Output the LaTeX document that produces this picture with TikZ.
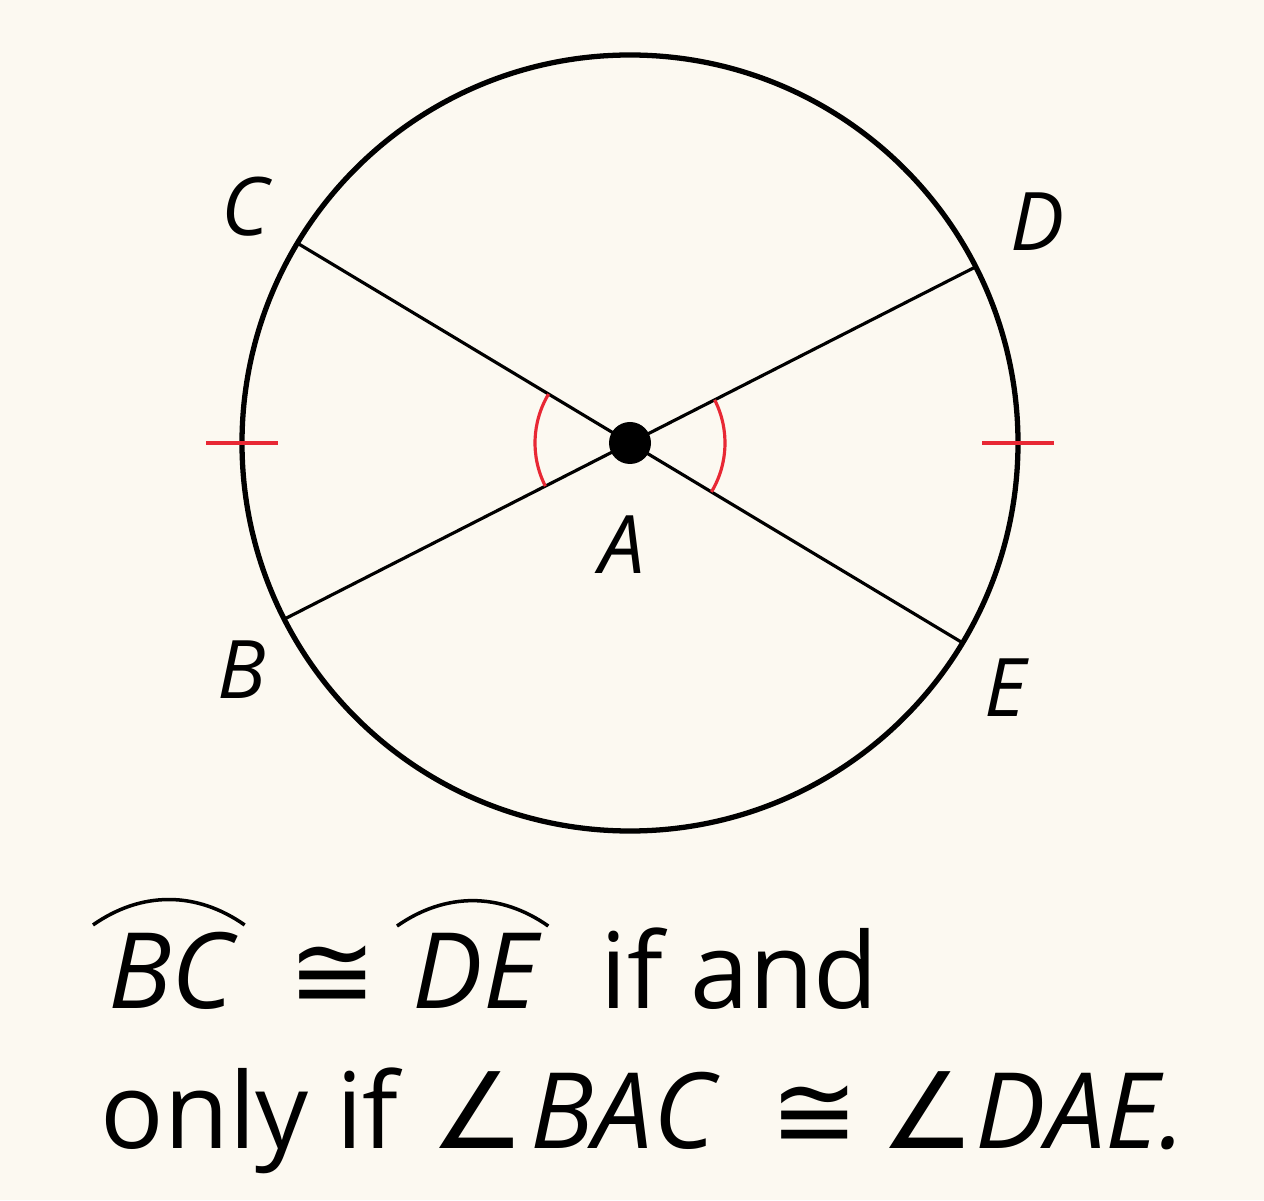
\documentclass[tikz,border=0pt]{standalone}
\usepackage{fontspec}
\setmainfont{Open Sans}
\newfontfamily\symfont{DejaVu Sans}
\definecolor{bgcream}{RGB}{252,249,241}
\definecolor{markred}{RGB}{232,40,52}
\begin{document}
\begin{tikzpicture}[
			circ/.style={line width=1.5pt},
			chord/.style={line width=0.9pt},
			redmark/.style={markred, line width=0.9pt},
			lbl/.style={font=\fontsize{23}{27}\selectfont\itshape},
			txt/.style={anchor=base west, inner sep=0pt, font=\fontsize{30}{36}\selectfont}
			]
			\fill[bgcream] (0,0) rectangle (12.64,12); % page
			\coordinate (A) at (6.30,7.57);
			\path (A) ++(149:3.88) coordinate (C)
			      (A) ++(27:3.88) coordinate (D)
			      (A) ++(207:3.88) coordinate (B)
			      (A) ++(329:3.88) coordinate (E)
			      (A) ++(180:3.88) coordinate (L)
			      (A) ++(0:3.88) coordinate (R);
			\draw[circ] (A) circle (3.88);
			\draw[chord] (C) -- (E);
			\draw[chord] (B) -- (D);
			% congruent marks
			\draw[redmark] (A) ++(149:0.95) arc (149:207:0.95);
			\draw[redmark] (A) ++(-31:0.95) arc (-31:27:0.95);
			\draw[redmark] ([xshift=-0.36cm]L) -- ([xshift=0.36cm]L);
			\draw[redmark] ([xshift=-0.36cm]R) -- ([xshift=0.36cm]R);
			\fill (A) circle (0.21);
			% point labels
			\node[lbl] (labC) at (2.45,9.93) {C};
			\node[lbl] (labD) at (10.37,9.78) {D};
			\node[lbl] (labB) at (2.42,5.30) {B};
			\node[lbl] (labE) at (10.05,5.12) {E};
			\node[lbl] (labA) at (6.22,6.55) {A};
			% statement
			\node[txt] (bc) at (1.08,1.92) {\itshape BC};
			\node[txt] (cong1) at (2.88,1.92) {\symfont ≅};
			\node[txt] (de) at (4.12,1.92) {\itshape DE};
			\node[txt] (ifand) at (6.00,1.92) {if and};
			\node[txt] (onlyif) at (1.00,0.52) {only if};
			\node[txt] (ang1) at (4.30,0.52) {\symfont ∠};
			\node[txt] (bac) at (5.30,0.52) {\itshape BAC};
			\node[txt] (cong2) at (7.70,0.52) {\symfont ≅};
			\node[txt] (ang2) at (8.80,0.52) {\symfont ∠};
			\node[txt] (dae) at (9.75,0.52) {\itshape DAE.};
			\draw[line width=1pt] ([xshift=-0.15cm,yshift=0.06cm]bc.north west) to[bend left=35] ([xshift=0.1cm,yshift=0.06cm]bc.north east);
			\draw[line width=1pt] ([xshift=-0.15cm,yshift=0.06cm]de.north west) to[bend left=35] ([xshift=0.1cm,yshift=0.06cm]de.north east);
		\end{tikzpicture}
\end{document}
